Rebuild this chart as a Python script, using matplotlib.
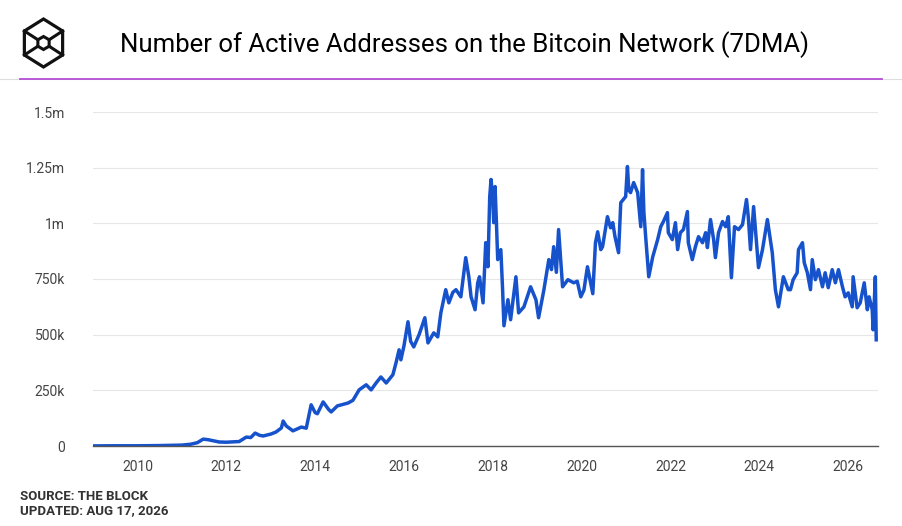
import matplotlib.pyplot as plt
import numpy as np
from matplotlib.lines import Line2D
from matplotlib.patches import Polygon

# Datenpunkte (Jahr als Dezimalzahl, aktive Adressen in Tausend)
years = [
    2009.01, 2009.5, 2010.0, 2010.5, 2011.0, 2011.2, 2011.35, 2011.48, 2011.6,
    2011.84, 2012.0, 2012.29, 2012.45, 2012.55, 2012.65, 2012.75, 2012.83,
    2013.01, 2013.12, 2013.24, 2013.28, 2013.35, 2013.5, 2013.69, 2013.8,
    2013.91, 2014.0, 2014.05, 2014.18, 2014.3, 2014.36, 2014.5, 2014.74,
    2014.85, 2014.99, 2015.15, 2015.26, 2015.38, 2015.48, 2015.6, 2015.75,
    2015.82, 2015.89, 2015.93, 2016.0, 2016.09, 2016.15, 2016.22, 2016.34,
    2016.47, 2016.54, 2016.67, 2016.76, 2016.83, 2016.94, 2017.01, 2017.1,
    2017.17, 2017.28, 2017.39, 2017.46, 2017.51, 2017.6, 2017.66, 2017.7,
    2017.78, 2017.84, 2017.89, 2017.93, 2017.96, 2018.0, 2018.02, 2018.05,
    2018.08, 2018.11, 2018.18, 2018.22, 2018.25, 2018.34, 2018.40, 2018.52,
    2018.58, 2018.70, 2018.85, 2018.97, 2019.03, 2019.15, 2019.26, 2019.32,
    2019.37, 2019.43, 2019.48, 2019.57, 2019.69, 2019.82, 2019.9, 2019.98,
    2020.05, 2020.13, 2020.25, 2020.31, 2020.36, 2020.43, 2020.47, 2020.58,
    2020.65, 2020.70, 2020.75, 2020.83, 2020.88,
    2020.99, 2021.03, 2021.06, 2021.1, 2021.17, 2021.26, 2021.33, 2021.37,
    2021.4, 2021.44, 2021.51, 2021.6, 2021.71, 2021.78, 2021.84, 2021.93,
    2021.95, 2022.04, 2022.11, 2022.16, 2022.22, 2022.29, 2022.38, 2022.40,
    2022.49, 2022.56, 2022.63, 2022.72, 2022.79, 2022.83, 2022.90, 2022.97,
    2023.01, 2023.08, 2023.17, 2023.24, 2023.30, 2023.37, 2023.44, 2023.53,
    2023.62, 2023.71, 2023.75, 2023.80, 2023.87, 2023.98, 2024.07, 2024.18,
    2024.29, 2024.36, 2024.43, 2024.54, 2024.65, 2024.70, 2024.76, 2024.85,
    2024.88, 2024.97, 2025.01, 2025.08, 2025.15, 2025.19, 2025.26, 2025.33,
    2025.42, 2025.48, 2025.55, 2025.64, 2025.71, 2025.78, 2025.87, 2025.93,
    2026.0, 2026.09, 2026.11, 2026.20, 2026.27, 2026.36, 2026.43, 2026.47,
    2026.54, 2026.56, 2026.61, 2026.63,
]
addresses_k = [
    0.5, 1, 1, 2, 4, 8, 15, 31, 28,
    18, 17, 20, 40, 38, 58, 48, 45,
    54, 63, 81, 112, 90, 68, 85, 80,
    185, 150, 145, 198, 165, 153, 180, 193,
    205, 252, 275, 252, 285, 310, 283, 320,
    373, 432, 387, 450, 558, 470, 445, 500,
    576, 463, 508, 490, 598, 702, 643, 690,
    702, 670, 846, 760, 670, 612, 733, 760,
    643, 913, 805, 1120, 1197, 1100, 1003, 1165,
    1008, 837, 882, 702, 540, 657, 567, 760,
    598, 625, 715, 657, 576, 702, 837, 792,
    895, 780, 972, 715, 747, 733, 740, 670,
    700, 805, 684, 913, 962, 882, 895, 1030,
    980, 1003, 940, 868, 1093,
    1120, 1255, 1150, 1138, 1183, 1138, 985, 1241,
    1050, 940, 760, 850, 927, 985, 1008, 1048,
    958, 927, 1003, 882, 958, 972, 1053, 913,
    837, 895, 940, 913, 958, 891, 1017, 927,
    846, 958, 1008, 985, 1030, 756, 985, 972,
    994, 1107, 1030, 882, 1075, 801, 882, 1017,
    868, 702, 625, 760, 702, 702, 747, 778,
    882, 913, 823, 778, 702, 837, 747, 792,
    715, 778, 711, 792, 733, 792, 715, 670,
    688, 625, 760, 621, 643, 733, 612, 670,
    612, 522, 760, 477,
]

y_ticks = [0, 250e3, 500e3, 750e3, 1e6, 1.25e6, 1.5e6]
y_tick_labels = ['0', '250k', '500k', '750k', '1m', '1.25m', '1.5m']
x_ticks = list(range(2010, 2027, 2))

plt.rcParams['font.family'] = ['Roboto', 'DejaVu Sans']

fig = plt.figure(figsize=(9.03, 5.26), dpi=100)
ax = fig.add_axes([93 / 903, 80 / 526, 785 / 903, 334 / 526])

ax.plot(years, np.array(addresses_k) * 1000, color='#1652cc', lw=2.5,
        solid_joinstyle='round')

ax.set_xlim(2009.0, 2026.67)
ax.set_ylim(0, 1.5e6)
ax.set_yticks(y_ticks)
ax.set_yticklabels(y_tick_labels)
ax.set_xticks(x_ticks)
ax.set_xticklabels([str(y) for y in x_ticks])
ax.tick_params(axis='both', length=0, labelsize=10, colors='#444444')
ax.tick_params(axis='y', pad=20)
ax.tick_params(axis='x', pad=10)
ax.grid(axis='y', color='#e6e6e6', lw=0.8)
ax.set_axisbelow(True)
for side in ['top', 'right', 'left']:
    ax.spines[side].set_visible(False)
ax.spines['bottom'].set_color('#555555')
ax.spines['bottom'].set_linewidth(1.0)

# Titel
fig.text(465 / 903, 1 - 45 / 526, 'Number of Active Addresses on the Bitcoin Network (7DMA)',
         ha='center', va='center', fontsize=18.5, color='#000000')

# Trennlinien unter dem Titel
fig.add_artist(Line2D([0, 1], [1 - 79 / 526] * 2, color='#dddddd', lw=0.8))
fig.add_artist(Line2D([20 / 903, 882 / 903], [1 - 79 / 526] * 2, color='#b44fd6', lw=1.3))

# Logo (Sechseck mit Würfel-Linien)
cx, cy, r = 43.5, 43, 24
def to_fig(px, py):
    return (px / 903, 1 - py / 526)
angles = np.deg2rad([90, 150, 210, 270, 330, 30])
outer = [to_fig(cx + r * np.cos(a) * 0.92, cy - r * np.sin(a)) for a in angles]
fig.add_artist(Polygon(outer, closed=True, fill=False, ec='#111111', lw=2.3,
                       transform=fig.transFigure))
ri = 6.5
inner = [to_fig(cx + ri * np.cos(a), cy - ri * np.sin(a)) for a in angles]
fig.add_artist(Polygon(inner, closed=True, fill=False, ec='#111111', lw=2.2,
                       transform=fig.transFigure))
for a in np.deg2rad([150, 210, 330, 30]):
    p1 = to_fig(cx + ri * np.cos(a), cy - ri * np.sin(a))
    p2 = to_fig(cx + r * np.cos(a) * 0.92, cy - r * np.sin(a))
    fig.add_artist(Line2D([p1[0], p2[0]], [p1[1], p2[1]], color='#111111', lw=2.2))

# Quelle
fig.text(20 / 903, 1 - 496 / 526, 'SOURCE: THE BLOCK', ha='left', va='center',
         fontsize=9.5, fontweight='bold', color='#333333')
fig.text(20 / 903, 1 - 511 / 526, 'UPDATED: AUG 17, 2026', ha='left', va='center',
         fontsize=9.5, fontweight='bold', color='#333333')

fig.savefig('out.png', dpi=100)
